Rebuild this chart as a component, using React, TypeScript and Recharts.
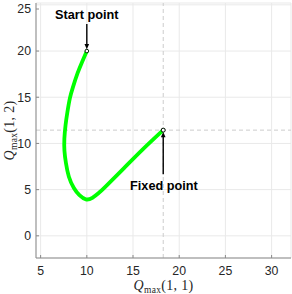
import React from 'react';
import { ComposedChart, Line, XAxis, YAxis, CartesianGrid, ReferenceLine, ReferenceDot } from 'recharts';

const xTicks = [5, 10, 15, 20, 25, 30];
const yTicks = [0, 5, 10, 15, 20, 25];
const xDomain = [4.5, 32.1];
const yDomain = [-2.4, 25.2];

const curveX = [10.0, 9.5, 9.0, 8.5, 8.17, 7.9, 7.7, 7.57, 7.58, 7.74, 8.06, 8.6, 9.2, 9.9, 10.6, 11.3, 12.0, 14.0, 16.0, 18.27];
const curveY = [20.0, 18.85, 17.6, 16.1, 14.9, 13.4, 12.0, 10.5, 9.2, 7.88, 6.4, 5.17, 4.4, 3.95, 4.12, 4.65, 5.3, 7.3, 9.3, 11.44];
const curve = curveX.map((x, i) => ({ x, y: curveY[i] }));

const startPoint = { x: 10.0, y: 20.0, label: 'Start point' };
const fixedPoint = { x: 18.27, y: 11.44, label: 'Fixed point' };

const axisColor = '#8a8a8a';
const gridColor = '#e9e9e9';
const tickColor = '#262626';
const sans = '"Liberation Sans", Arial, Helvetica, sans-serif';
const serif = '"Liberation Serif", "Times New Roman", serif';

const BottomTick = (p: any) => (
  <g>
    <line x1={p.x} y1={p.y} x2={p.x} y2={p.y - 3} stroke={axisColor} strokeWidth={1} />
    <text x={p.x} y={p.y + 17} textAnchor="middle" fontFamily={sans} fontSize={12.3} fill={tickColor}>
      {p.payload.value}
    </text>
  </g>
);
const LeftTick = (p: any) => (
  <g>
    <line x1={p.x} y1={p.y} x2={p.x + 3} y2={p.y} stroke={axisColor} strokeWidth={1} />
    <text x={p.x - 5} y={p.y} dy="0.36em" textAnchor="end" fontFamily={sans} fontSize={12.3} fill={tickColor}>
      {p.payload.value}
    </text>
  </g>
);
const TopTick = (p: any) => (
  <line x1={p.x} y1={p.y} x2={p.x} y2={p.y + 3} stroke={axisColor} strokeWidth={1} />
);
const RightTick = (p: any) => (
  <line x1={p.x} y1={p.y} x2={p.x - 3} y2={p.y} stroke={axisColor} strokeWidth={1} />
);

const MathLabel = ({ x, y, arg, rotate }: any) => (
  <text
    x={x}
    y={y}
    textAnchor="middle"
    fontFamily={serif}
    fontSize={14}
    fill={tickColor}
    letterSpacing={0.3}
    transform={rotate ? `rotate(-90 ${x} ${y})` : undefined}
  >
    <tspan fontStyle="italic">Q</tspan>
    <tspan fontSize={9.5} dy={3}>max</tspan>
    <tspan dy={-3}>{arg}</tspan>
  </text>
);

const StartShape = (p: any) => {
  const { cx, cy } = p;
  return (
    <g>
      <line x1={cx} y1={cy - 27} x2={cx} y2={cy - 6} stroke="#000" strokeWidth={1.4} />
      <polygon points={`${cx - 2.3},${cy - 7} ${cx + 2.3},${cy - 7} ${cx},${cy - 1.8}`} fill="#000" />
      <circle cx={cx} cy={cy} r={1.8} fill="#fff" stroke="#000" strokeWidth={0.9} />
      <text x={cx} y={cy - 32.5} textAnchor="middle" fontFamily={sans} fontWeight="bold" fontSize={12.7} fill="#000">
        {startPoint.label}
      </text>
    </g>
  );
};

const FixedShape = (p: any) => {
  const { cx, cy } = p;
  return (
    <g>
      <line x1={cx} y1={cy + 44} x2={cx} y2={cy + 6} stroke="#000" strokeWidth={1.4} />
      <polygon points={`${cx - 2.3},${cy + 7} ${cx + 2.3},${cy + 7} ${cx},${cy + 1.8}`} fill="#000" />
      <circle cx={cx} cy={cy} r={2} fill="#fff" stroke="#000" strokeWidth={1} />
      <text x={cx + 0.7} y={cy + 59.5} textAnchor="middle" fontFamily={sans} fontWeight="bold" fontSize={12.7} fill="#000">
        {fixedPoint.label}
      </text>
    </g>
  );
};

export default function App() {
  return (
    <div style={{ position: 'absolute', left: 0, top: 0, width: 292, height: 294, background: '#fff' }}>
      <ComposedChart width={292} height={294} margin={{ top: 3, right: 1, left: 0, bottom: 0 }}>
        <CartesianGrid stroke={gridColor} strokeWidth={1} />
        <XAxis
          dataKey="x"
          type="number"
          domain={xDomain}
          ticks={xTicks}
          allowDataOverflow
          height={36}
          tickSize={0}
          tickMargin={0}
          tickLine={false}
          axisLine={{ stroke: axisColor }}
          tick={BottomTick}
          label={{
            content: (lp: any) => {
              const vb = lp.viewBox;
              return <MathLabel x={vb.x + vb.width / 2} y={vb.y + 32} arg="(1, 1)" />;
            },
          }}
        />
        <XAxis
          xAxisId="top"
          orientation="top"
          type="number"
          domain={xDomain}
          ticks={xTicks}
          allowDataOverflow
          height={0}
          tickSize={0}
          tickMargin={0}
          tickLine={false}
          axisLine={{ stroke: axisColor }}
          tick={TopTick}
        />
        <YAxis
          type="number"
          domain={yDomain}
          ticks={yTicks}
          allowDataOverflow
          width={36}
          tickSize={0}
          tickMargin={0}
          tickLine={false}
          axisLine={{ stroke: axisColor }}
          tick={LeftTick}
          label={{
            content: (lp: any) => {
              const vb = lp.viewBox;
              return <MathLabel x={14} y={vb.y + vb.height / 2} arg="(1, 2)" rotate />;
            },
          }}
        />
        <YAxis
          yAxisId="right"
          orientation="right"
          type="number"
          domain={yDomain}
          ticks={yTicks}
          allowDataOverflow
          width={0}
          tickSize={0}
          tickMargin={0}
          tickLine={false}
          axisLine={{ stroke: axisColor }}
          tick={RightTick}
        />
        <ReferenceLine x={fixedPoint.x} stroke="#cccccc" strokeDasharray="4 3" strokeWidth={1} />
        <ReferenceLine y={fixedPoint.y} stroke="#cccccc" strokeDasharray="4 3" strokeWidth={1} />
        <Line
          data={curve}
          dataKey="y"
          type="natural"
          stroke="#00ff00"
          strokeWidth={3.8}
          strokeLinecap="round"
          dot={false}
          activeDot={false}
          isAnimationActive={false}
        />
        <ReferenceDot x={startPoint.x} y={startPoint.y} r={2} shape={StartShape} />
        <ReferenceDot x={fixedPoint.x} y={fixedPoint.y} r={2} shape={FixedShape} />
      </ComposedChart>
    </div>
  );
}
